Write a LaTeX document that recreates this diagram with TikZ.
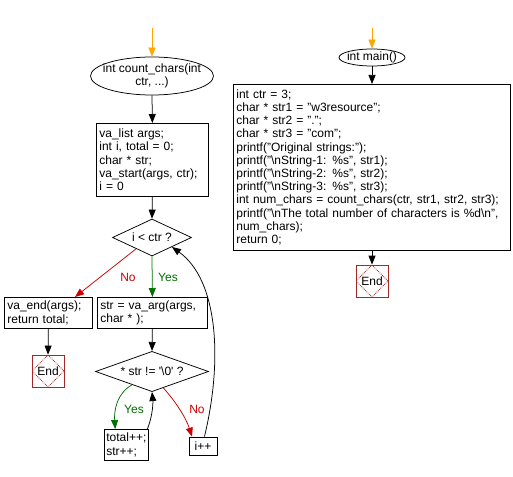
\documentclass[tikz,border=0pt]{standalone}
\usepackage{fontspec}
\setmainfont{Liberation Sans}
\usetikzlibrary{shapes.geometric,arrows.meta,calc}
\definecolor{ylw}{RGB}{255,165,0}
\definecolor{nored}{RGB}{204,0,0}
\definecolor{yesgreen}{RGB}{0,110,0}
\definecolor{endred}{RGB}{165,40,40}
\begin{document}
\begin{tikzpicture}[x=1pt,y=-1pt,
  font=\fontsize{12}{13.2}\selectfont,
  line width=0.75pt,
  arr/.style={-{Triangle[length=9pt,width=7pt]}},
  proc/.style={draw, rectangle, inner sep=3pt, align=left, anchor=north west},
  oval/.style={draw, ellipse, inner sep=0pt},
  decision/.style={draw, diamond, inner sep=0pt, aspect=2},
  endbox/.style={draw=endred, rectangle, minimum width=32pt, minimum height=32pt, inner sep=0pt,
    path picture={\draw[endred, densely dotted, line width=0.8pt]
      (path picture bounding box.north) -- (path picture bounding box.east) --
      (path picture bounding box.south) -- (path picture bounding box.west) -- cycle;}},
  nolab/.style={text=nored},
  yeslab/.style={text=yesgreen}]
\useasboundingbox (0,0) rectangle (513,476);

% ---------- left: count_chars ----------
\coordinate (s1) at (152,28);
\node[oval, minimum width=123pt, minimum height=38pt] (e1) at (152,76) {};
\node[align=center, inner sep=0pt] (e1t) at (e1) {int count\_chars(int\\ctr, ...)};
\node[proc, minimum width=112pt, minimum height=73pt, text width=106pt] (b1) at (96,123)
  {va\_list args;\\int i, total = 0;\\char * str;\\va\_start(args, ctr);\\i = 0};
\node[decision, minimum width=79pt, minimum height=37pt] (d1) at (152,237.5) {i < ctr ?};
\node[proc, minimum width=88pt, minimum height=31pt, text width=82pt] (vaend) at (4,297)
  {va\_end(args);\\return total;};
\node[proc, minimum width=110pt, minimum height=31pt, text width=104pt] (str) at (97,297)
  {str = va\_arg(args,\\char * );};
\node[endbox] (end1) at (48,371) {End};
\node[decision, minimum width=113pt, minimum height=37pt] (d2) at (152,371.5)
  {* str != \textquotesingle\textbackslash0\textquotesingle\ ?};
\node[proc, minimum width=44pt, minimum height=31pt, text width=40pt, inner sep=2pt] (tot) at (104,429)
  {total++;\\str++;};
\node[draw, rectangle, minimum width=28pt, minimum height=18pt, inner sep=0pt] (ipp) at (203,446) {i++};

\node[nolab] (lno1) at (128,277) {No};
\node[yeslab] (lyes1) at (168,277) {Yes};
\node[yeslab] (lyes2) at (134,409) {Yes};
\node[nolab] (lno2) at (197,409) {No};

\draw[arr, ylw] (s1) -- (e1.north);
\draw[arr] (e1.south) -- (b1.north);
\draw[arr] (b1.south) -- (d1.north);
\draw[arr, nored] ($(d1.south)!0.4!(d1.west)$) -- ($(vaend.north west)!0.8!(vaend.north east)$);
\draw[arr, yesgreen] (d1.south) -- (str.north);
\draw[arr] (vaend.south) -- (end1.north);
\draw[arr] (str.south) -- (d2.north);
\draw[arr, yesgreen] ($(d2.south)!0.35!(d2.west)$) .. controls (117,393) and (114,410) ..
  ($(tot.north west)!0.25!(tot.north east)$);
\draw[arr] ($(tot.north west)!0.97!(tot.north east)$) .. controls (153,415) and (153,402) .. (d2.south);
\draw[arr, nored] ($(d2.south)!0.2!(d2.east)$) .. controls (176,402) and (186,418) ..
  ($(ipp.north west)!0.12!(ipp.north east)$);
\draw[arr] ($(ipp.north west)!0.55!(ipp.north east)$) .. controls (223,360) and (218,280) .. (d1.south east);

% ---------- right: main ----------
\coordinate (s2) at (372,28);
\node[oval, minimum width=66pt, minimum height=17pt] (e2) at (372,57.5) {};
\node[inner sep=0pt] (e2t) at (e2) {int main()};
\node[proc, minimum width=277pt, minimum height=166pt, text width=271pt] (mbox) at (233,84)
  {int ctr = 3;\\
   char * str1 = "w3resource";\\
   char * str2 = ".";\\
   char * str3 = "com";\\
   printf("Original strings:");\\
   printf("\textbackslash nString-1: \%s", str1);\\
   printf("\textbackslash nString-2: \%s", str2);\\
   printf("\textbackslash nString-3: \%s", str3);\\
   int num\_chars = count\_chars(ctr, str1, str2, str3);\\
   printf("\textbackslash nThe total number of characters is \%d\textbackslash n",\\
   num\_chars);\\
   return 0;};
\node[endbox] (end2) at (372,281) {End};

\draw[arr, ylw] (s2) -- (e2.north);
\draw[arr] (e2.south) -- (mbox.north -| e2.south);
\draw[arr] (mbox.south -| end2.north) -- (end2.north);
\end{tikzpicture}
\end{document}
